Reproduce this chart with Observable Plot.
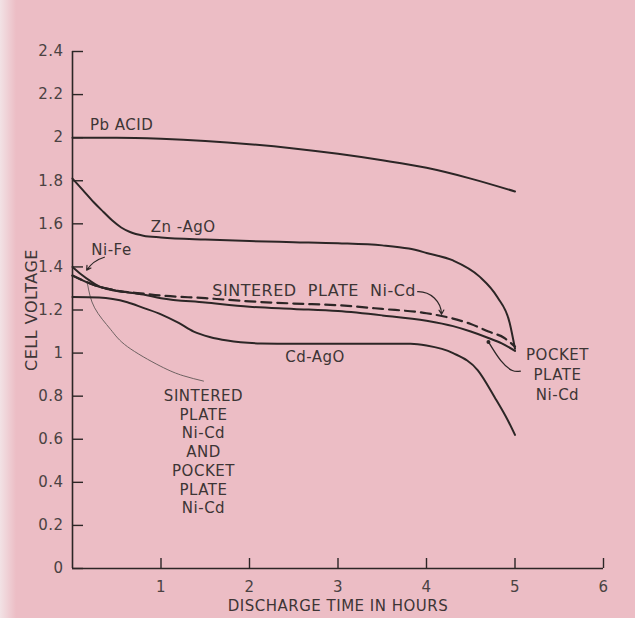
<!DOCTYPE html>
<html><head><meta charset="utf-8">
<script src="https://cdn.jsdelivr.net/npm/d3@7"></script>
<script src="https://cdn.jsdelivr.net/npm/@observablehq/plot@0.6"></script>
<style>
html,body{margin:0;padding:0;}
body{width:635px;height:618px;overflow:hidden;background:linear-gradient(to right,#f2e2e5 0px,#ecbdc5 16px);}
</style></head><body><div id="chart"></div>
<script>
// ---- data ----
const pbHours   = [0, 0.5, 1, 1.5, 2, 2.5, 3, 3.5, 4, 4.5, 5];
const pbVolts   = [2.0, 2.0, 1.995, 1.985, 1.97, 1.95, 1.925, 1.895, 1.86, 1.81, 1.75];

const znHours   = [0, 0.12, 0.24, 0.35, 0.45, 0.55, 0.65, 0.8, 1.0, 1.5, 2, 2.5, 3, 3.5, 3.8, 4.0, 4.3, 4.6, 4.8, 4.94, 5.0];
const znVolts   = [1.81, 1.755, 1.70, 1.655, 1.615, 1.583, 1.562, 1.545, 1.537, 1.527, 1.52, 1.515, 1.51, 1.50, 1.485, 1.465, 1.43, 1.355, 1.26, 1.14, 1.02];

const nifeHours = [0, 0.1, 0.2, 0.3, 0.45, 0.6, 0.8];
const nifeVolts = [1.40, 1.365, 1.335, 1.31, 1.292, 1.283, 1.274];

const pocketHours = [0, 0.25, 0.5, 0.8, 1, 1.5, 2, 2.5, 3, 3.5, 4, 4.3, 4.5, 4.7, 4.85, 5];
const pocketVolts = [1.36, 1.315, 1.29, 1.272, 1.255, 1.235, 1.215, 1.205, 1.195, 1.175, 1.15, 1.125, 1.10, 1.07, 1.045, 1.01];

const sinterHours = [0, 0.25, 0.5, 0.8, 1, 1.5, 2, 2.5, 3, 3.5, 4, 4.3, 4.5, 4.7, 4.88, 5];
const sinterVolts = [1.36, 1.315, 1.29, 1.276, 1.267, 1.255, 1.24, 1.23, 1.222, 1.205, 1.185, 1.16, 1.135, 1.10, 1.07, 1.03];

const cdHours   = [0, 0.3, 0.62, 0.8, 1.0, 1.2, 1.37, 1.55, 1.75, 2.13, 2.5, 3, 3.5, 3.82, 4.0, 4.3, 4.58, 4.77, 4.92, 5.0];
const cdVolts   = [1.26, 1.258, 1.236, 1.21, 1.18, 1.14, 1.10, 1.075, 1.058, 1.045, 1.043, 1.043, 1.043, 1.043, 1.035, 1.0, 0.92, 0.795, 0.687, 0.62];

const xTicks = [1, 2, 3, 4, 5, 6];
const yTicks = [0, 0.2, 0.4, 0.6, 0.8, 1, 1.2, 1.4, 1.6, 1.8, 2, 2.2, 2.4];

// annotation labels (data coordinates)
const labelText  = ["Pb ACID", "Zn -AgO", "Ni-Fe", "Cd-AgO"];
const labelHours = [0.555, 1.25, 0.44, 2.74];
const labelVolts = [2.056, 1.584, 1.479, 0.98];

const sinterLabel = "SINTERED\u00a0 PLATE\u00a0 Ni-Cd";
const sinterLabelAt = [1.58, 1.29];
const stackLabel = "SINTERED\nPLATE\nNi-Cd\nAND\nPOCKET\nPLATE\nNi-Cd";
const stackLabelAt = [1.48, 0.545];
const pocketLabel = "POCKET\nPLATE\nNi-Cd";
const pocketLabelAt = [5.48, 0.906];

// leader lines
const stackLeaderHours = [0.17, 0.25, 0.43, 0.62, 0.99, 1.25, 1.48];
const stackLeaderVolts = [1.32, 1.21, 1.11, 1.03, 0.94, 0.895, 0.87];
const pocketLeaderHours = [4.70, 4.84, 4.97, 5.06];
const pocketLeaderVolts = [1.052, 0.965, 0.919, 0.916];
const sinterArrow = {x1: 3.9, y1: 1.285, x2: 4.17, y2: 1.18};
const nifeArrow   = {x1: 0.36, y1: 1.445, x2: 0.16, y2: 1.385};

// ---- build tables ----
const toRows = (name, xs, ys) => xs.map((h, i) => ({series: name, hour: h, volt: ys[i]}));
const solidRows = [
  ...toRows("Pb ACID", pbHours, pbVolts),
  ...toRows("Zn-AgO", znHours, znVolts),
  ...toRows("Ni-Fe", nifeHours, nifeVolts),
  ...toRows("Pocket plate Ni-Cd", pocketHours, pocketVolts),
  ...toRows("Cd-AgO", cdHours, cdVolts)
];
const dashedRows = toRows("Sintered plate Ni-Cd", sinterHours, sinterVolts);
const labels = labelText.map((t, i) => ({text: t, hour: labelHours[i], volt: labelVolts[i]}));
const stackLeader = toRows("leader", stackLeaderHours, stackLeaderVolts);
const pocketLeader = toRows("leader", pocketLeaderHours, pocketLeaderVolts);

const ink = "#2c2626";
const textInk = "#3d3535";
const arrowOpts = {x1: "x1", y1: "y1", x2: "x2", y2: "y2", stroke: ink, strokeWidth: 1.2, headLength: 6};

const chart = Plot.plot({
  width: 635, height: 618,
  marginLeft: 72, marginRight: 32, marginTop: 51, marginBottom: 50,
  style: {background: "transparent", fontFamily: "'DejaVu Sans', sans-serif", fontSize: "15px", color: textInk, letterSpacing: "0.5px"},
  x: {domain: [0, 6]},
  y: {domain: [0, 2.4]},
  marks: [
    Plot.ruleX([0], {y1: 0, y2: 2.4, stroke: ink, strokeWidth: 1.6}),
    Plot.ruleY([0], {x1: 0, x2: 6, stroke: ink, strokeWidth: 1.6}),
    Plot.tickY(yTicks, {y: d => d, insetRight: 520, stroke: ink, strokeWidth: 1.4}),
    Plot.tickX(xTicks, {x: d => d, insetTop: 507, stroke: ink, strokeWidth: 1.4}),
    Plot.axisY(yTicks, {tickSize: 0, tickPadding: 9, tickFormat: d3.format("~g"), label: null, fontSize: 15, fill: "#4a4242"}),
    Plot.axisX(xTicks, {tickSize: 0, tickPadding: 13, tickFormat: d3.format("~g"), label: null, fontSize: 15, fill: "#4a4242"}),
    Plot.text(["CELL VOLTAGE"], {frameAnchor: "left", textAnchor: "middle", lineAnchor: "middle", rotate: -90, dx: -41, fontSize: 16, fill: textInk}),
    Plot.text(["DISCHARGE TIME IN HOURS"], {frameAnchor: "bottom", textAnchor: "middle", lineAnchor: "middle", dy: 38, fontSize: 15, fill: textInk}),
    Plot.line(stackLeader, {x: "hour", y: "volt", curve: "natural", stroke: "#6e6262", strokeWidth: 1}),
    Plot.line(pocketLeader, {x: "hour", y: "volt", curve: "natural", stroke: ink, strokeWidth: 1.3}),
    Plot.dot(pocketLeader.slice(0, 1), {x: "hour", y: "volt", r: 2, fill: ink}),
    Plot.arrow([sinterArrow], {...arrowOpts, bend: 45}),
    Plot.arrow([nifeArrow], {...arrowOpts, bend: -20}),
    Plot.line(solidRows, {x: "hour", y: "volt", z: "series", curve: "monotone-x", stroke: ink, strokeWidth: 2}),
    Plot.line(dashedRows, {x: "hour", y: "volt", curve: "monotone-x", stroke: ink, strokeWidth: 2.2, strokeDasharray: "10,6"}),
    Plot.text(labels, {x: "hour", y: "volt", text: "text", fontSize: 15, fill: textInk}),
    Plot.text([sinterLabel], {x: sinterLabelAt[0], y: sinterLabelAt[1], textAnchor: "start", fontSize: 16, fill: textInk}),
    Plot.text([stackLabel], {x: stackLabelAt[0], y: stackLabelAt[1], fontSize: 15, lineHeight: 1.25, fill: textInk}),
    Plot.text([pocketLabel], {x: pocketLabelAt[0], y: pocketLabelAt[1], fontSize: 15, lineHeight: 1.33, fill: textInk})
  ]
});
document.getElementById("chart").append(chart);
</script>
</body></html>
